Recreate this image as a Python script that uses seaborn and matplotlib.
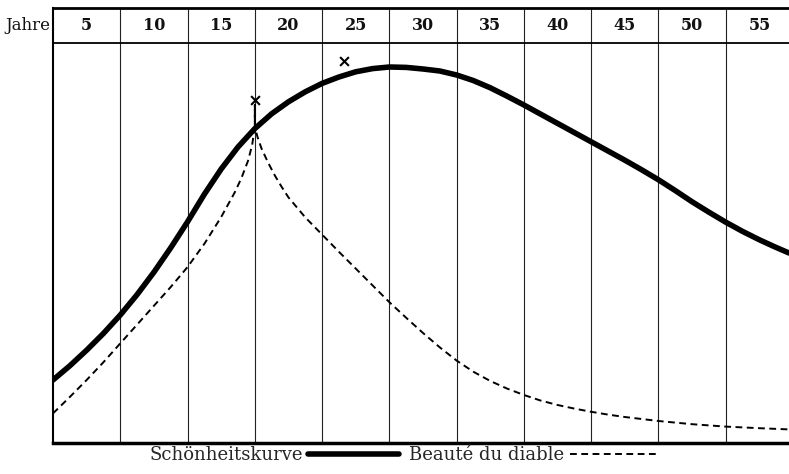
import pandas as pd
import matplotlib
matplotlib.use("Agg")
import matplotlib.pyplot as plt
import seaborn as sns

# age (years) and curve height (0 = bottom of chart, 100 = underside of header row)
beauty_age = [2.5, 3.75, 5, 6.25, 7.5, 8.75, 10, 11.25, 12.5, 13.75, 15, 16.25, 17.5,
              18.75, 20, 21.25, 22.5, 23.75, 25, 26.25, 27.5, 28.75, 30, 31.25, 32.5,
              33.75, 35, 36.25, 37.5, 38.75, 40, 41.25, 42.5, 43.75, 45, 46.25, 47.5,
              48.75, 50, 51.25, 52.5, 53.75, 55, 56.1, 57.2]
beauty_val = [15.75, 19.3, 23.2, 27.4, 32.0, 37.1, 42.7, 48.8, 55.3, 62.2, 68.5, 74.0, 78.6,
              82.3, 85.3, 87.8, 89.9, 91.5, 92.8, 93.6, 94.0, 93.9, 93.5, 93.0, 92.0,
              90.6, 88.8, 86.7, 84.5, 82.2, 79.9, 77.6, 75.3, 73.0, 70.7, 68.3, 65.8,
              63.1, 60.3, 57.7, 55.2, 52.9, 50.8, 49.1, 47.5]

diable_age = [2.5, 3.75, 5, 6.25, 7.5, 8.75, 10, 11.25, 12.5, 13.75, 15, 16, 16.5, 17,
              17.3, 17.5, 17.5, 17.5, 17.7, 18, 18.5, 19, 19.5, 20, 21.25, 22.5, 23.75,
              25, 26.25, 27.5, 28.75, 30, 31.25, 32.5, 33.75, 35, 36.25, 37.5, 38.75,
              40, 41.25, 42.5, 43.75, 45, 47.5, 50, 52.5, 55, 57.2]
diable_val = [7.4, 11.5, 15.75, 20.2, 24.9, 29.6, 34.3, 39.0, 44.0, 49.8, 56.5, 62.6, 66.2,
              70.6, 74.5, 79.0, 84.5, 79.0, 76.5, 73.6, 70.0, 66.8, 64.0, 61.4, 56.4,
              52.1, 47.8, 43.6, 39.4, 35.2, 31.3, 27.5, 23.9, 20.6, 17.8, 15.5, 13.6,
              12.0, 10.6, 9.5, 8.6, 7.8, 7.1, 6.5, 5.5, 4.7, 4.1, 3.7, 3.4]

cross_age = [17.5, 24.1]
cross_val = [85.75, 95.6]

header_ages = [5, 10, 15, 20, 25, 30, 35, 40, 45, 50, 55]
column_edges = [7.5, 12.5, 17.5, 22.5, 27.5, 32.5, 37.5, 42.5, 47.5, 52.5]

df_beauty = pd.DataFrame({"age": beauty_age, "val": beauty_val})
df_diable = pd.DataFrame({"age": diable_age, "val": diable_val})
df_cross = pd.DataFrame({"age": cross_age, "val": cross_val})

sns.set_theme(style="white")
plt.rcParams["font.family"] = ["DejaVu Serif"]

fig = plt.figure(figsize=(7.89, 4.74), dpi=100)
ax = fig.add_axes([53 / 789, 31 / 474, 1 - 53 / 789, 435 / 474])

x_max = 57.2
y_top = 108.75

# column lines + header row
ax.vlines(column_edges, 0, y_top, color="#222222", lw=0.8)
ax.axhline(100, color="black", lw=1.3)
for a in header_ages:
    ax.text(a, 104.4, str(a), ha="center", va="center", fontsize=11.5,
            fontweight="bold", color="#111111")
ax.text(2.3, 104.4, "Jahre", ha="right", va="center", fontsize=12, color="#111111")

sns.lineplot(data=df_beauty, x="age", y="val", ax=ax, color="black", lw=4,
             estimator=None, sort=False, label="Schönheitskurve",
             solid_joinstyle="round")
sns.lineplot(data=df_diable, x="age", y="val", ax=ax, color="black", lw=1.4,
             linestyle=(0, (3.5, 2.3)), estimator=None, sort=False,
             label="Beauté du diable")
sns.scatterplot(data=df_cross, x="age", y="val", ax=ax, marker="x", color="black",
                s=40, linewidth=1.5, zorder=5)

ax.set_xlim(2.5, x_max)
ax.set_ylim(0, y_top)
ax.set_xticks([])
ax.set_yticks([])
ax.set_xlabel("")
ax.set_ylabel("")
ax.spines["right"].set_visible(False)
ax.spines["left"].set_linewidth(1.5)
ax.spines["top"].set_linewidth(2)
ax.spines["bottom"].set_linewidth(2.5)
for s in ax.spines.values():
    s.set_color("black")

handles, labels = ax.get_legend_handles_labels()
ax.legend(handles[:2], labels[:2], loc="center", bbox_to_anchor=(0.513, 0.040),
          bbox_transform=fig.transFigure, ncol=2, frameon=False, markerfirst=False,
          fontsize=13, handlelength=5.0, handletextpad=0.3, columnspacing=0.6,
          borderpad=0, borderaxespad=0)

fig.savefig("out.png", dpi=100)
